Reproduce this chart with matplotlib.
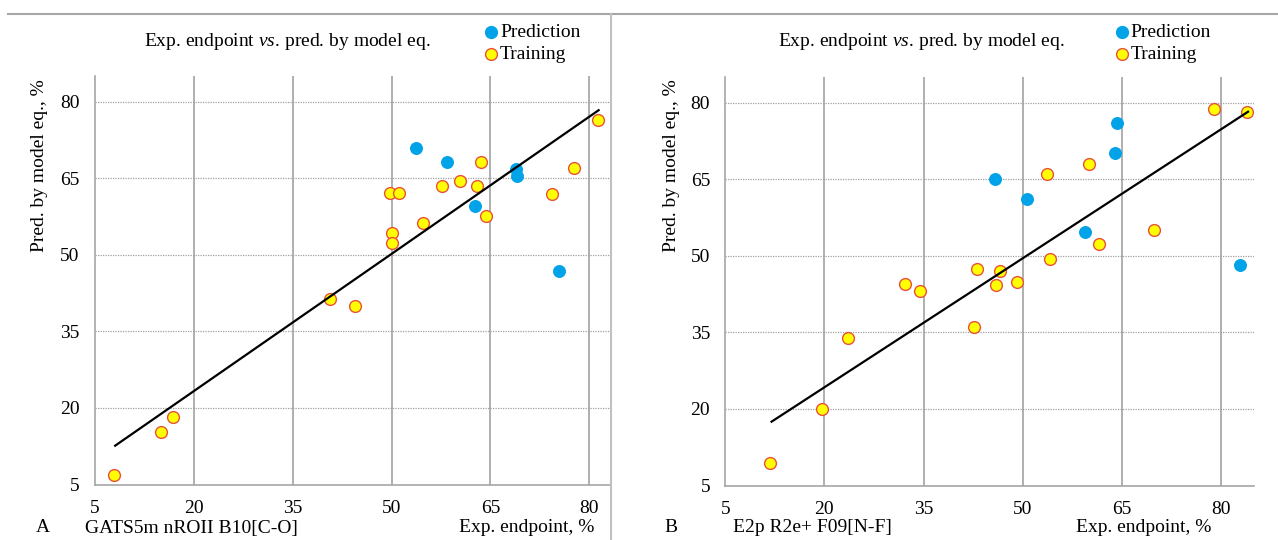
import numpy as np
import matplotlib
matplotlib.use("Agg")
import matplotlib.pyplot as plt
from matplotlib.lines import Line2D

plt.rcParams['font.family'] = ['Liberation Serif', 'DejaVu Serif']
plt.rcParams['mathtext.fontset'] = 'custom'
plt.rcParams['mathtext.rm'] = 'Liberation Serif'
plt.rcParams['mathtext.it'] = 'Liberation Serif:italic'
plt.rcParams['font.size'] = 14

# panel A data
a_train_x = [8.0, 15.0, 16.8, 40.7, 44.4, 49.8, 51.2, 50.1, 50.1, 54.8, 57.6, 60.4, 63.0, 63.6, 64.4, 74.4, 77.7, 81.3]
a_train_y = [6.9, 15.3, 18.3, 41.4, 39.9, 62.1, 62.0, 54.3, 52.2, 56.2, 63.4, 64.5, 63.4, 68.2, 57.5, 61.9, 67.0, 76.3]
a_pred_x = [53.7, 58.4, 68.9, 69.0, 62.7, 75.4]
a_pred_y = [70.9, 68.1, 66.8, 65.4, 59.6, 46.8]
a_fit_x = [8.1, 81.4]
a_fit_y = [12.6, 78.3]

# panel B data
b_train_x = [11.8, 19.7, 23.5, 32.2, 34.5, 42.6, 43.1, 46.0, 46.5, 49.2, 54.2, 53.7, 60.1, 61.6, 69.9, 78.9, 83.9]
b_train_y = [9.5, 19.9, 33.8, 44.4, 43.0, 36.0, 47.4, 44.2, 47.0, 44.8, 49.4, 66.1, 67.9, 52.3, 55.1, 78.7, 78.1]
b_pred_x = [45.8, 50.7, 64.3, 64.0, 59.5, 82.9]
b_pred_y = [65.1, 61.2, 75.9, 70.2, 54.6, 48.1]
b_fit_x = [12.0, 84.1]
b_fit_y = [17.5, 78.2]

ticks = [5, 20, 35, 50, 65, 80]
title = "Exp. endpoint $\\it{vs}$. pred. by model eq."
ylab = "Pred. by model eq., %"
xlab = "Exp. endpoint, %"

blue = '#00A2E8'
yellow = '#FFFF00'
edge = '#E8503A'
grey = '#A6A6A6'

W, H = 1278, 540
fig = plt.figure(figsize=(W / 100, H / 100), dpi=100)


def px_axes(x0, y0, x1, y1):
    return fig.add_axes([x0 / W, 1 - y1 / H, (x1 - x0) / W, (y1 - y0) / H])


def draw_panel(ax, tx, ty, px, py, fx, fy, xmax):
    ax.set_xlim(5, xmax)
    ax.set_ylim(5, 85)
    ax.set_xticks(ticks)
    ax.set_yticks(ticks)
    for s in ['top', 'right']:
        ax.spines[s].set_visible(False)
    for s in ['left', 'bottom']:
        ax.spines[s].set_color(grey)
        ax.spines[s].set_linewidth(1.2)
    ax.tick_params(length=0, pad=11, labelsize=14)
    for t in ticks[1:]:
        ax.axvline(t, color='#9A9A9A', lw=1.1, zorder=1)
        ax.axhline(t, color='#A0A0A0', lw=0.9, ls=(0, (1, 1)), zorder=1)
    ax.plot(px, py, 'o', ms=8.5, color=blue, mec=blue, mew=0.8, zorder=3)
    ax.plot(tx, ty, 'o', ms=8.5, color=yellow, mec=edge, mew=1.0, zorder=3)
    ax.plot(fx, fy, '-', color='black', lw=1.6, zorder=4)


ax1 = px_axes(94.7, 76, 610.5, 484.5)
draw_panel(ax1, a_train_x, a_train_y, a_pred_x, a_pred_y, a_fit_x, a_fit_y, 83.2)
ax2 = px_axes(725.3, 77, 1254, 485.5)
draw_panel(ax2, b_train_x, b_train_y, b_pred_x, b_pred_y, b_fit_x, b_fit_y, 85.0)

# frame lines
fig.add_artist(Line2D([8 / W, 1], [1 - 13.5 / H] * 2, color=grey, lw=1.5))
fig.add_artist(Line2D([610.7 / W] * 2, [1 - 13.5 / H, 0], color='#C0C0C0', lw=1.5))

# texts
for cx, ylx, mx, lab, lx, desc, ex in [
        (287.5, 40, 491, 'A', 43, 'GATS5m nROII B10[C-O]', 594),
        (921, 671, 1121.7, 'B', 671, 'E2p R2e+ F09[N-F]', 1211)]:
    fig.text(cx / W, 1 - 41 / H, title, ha='center', va='center', fontsize=14)
    fig.text(ylx / W, 1 - 166 / H, ylab, ha='center', va='center', rotation=90, fontsize=14)
    fig.text(lx / W, 1 - 528 / H, lab, ha='center', va='center', fontsize=14)
    fig.text((lx + 42) / W if lab == 'A' else 733 / W, 1 - 528 / H, desc, ha='left', va='center', fontsize=14)
    fig.text(ex / W, 1 - 528 / H, xlab, ha='right', va='center', fontsize=14)
    fig.add_artist(Line2D([mx / W], [1 - 32.3 / H], marker='o', ms=8.5, color=blue, mec=blue))
    fig.add_artist(Line2D([mx / W], [1 - 54.3 / H], marker='o', ms=8.5, color=yellow, mec=edge, mew=1.0))
    fig.text((mx + 9) / W, 1 - 32.3 / H, 'Prediction', ha='left', va='center', fontsize=14)
    fig.text((mx + 9) / W, 1 - 54.3 / H, 'Training', ha='left', va='center', fontsize=14)

fig.savefig('out.png', dpi=100)
